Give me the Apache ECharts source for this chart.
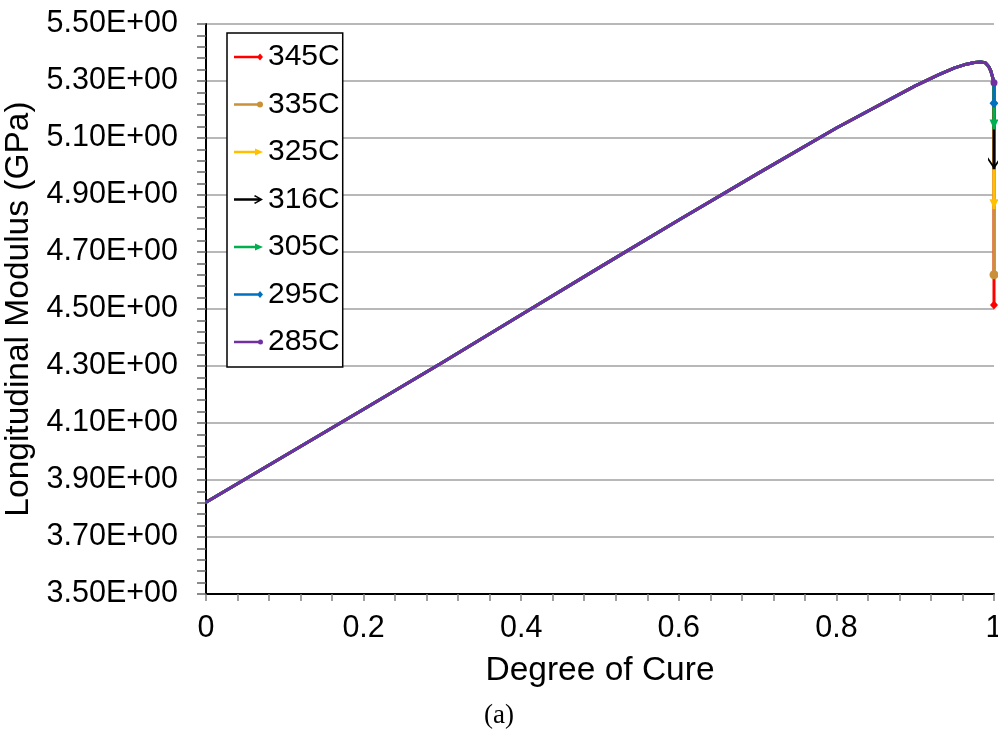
<!DOCTYPE html>
<html>
<head>
<meta charset="utf-8">
<script src="https://cdn.jsdelivr.net/npm/echarts@6/dist/echarts.min.js"></script>
<style>
html,body{margin:0;padding:0;background:#fff;}
#chart{width:998px;height:731px;}
</style>
</head>
<body>
<div id="chart"></div>
<script>
// ---- data ----
const temps = ['345C', '335C', '325C', '316C', '305C', '295C', '285C'];
const cure = [0, 0.1, 0.2, 0.3, 0.4, 0.5, 0.6, 0.7, 0.8, 0.9, 0.93, 0.95, 0.965, 0.975, 0.983, 0.989, 0.993, 0.996, 0.998, 1.0];
const modulus = [3.822, 3.985, 4.148, 4.312, 4.480, 4.647, 4.812, 4.975, 5.135, 5.283, 5.322, 5.346, 5.359, 5.365, 5.367, 5.364, 5.352, 5.335, 5.315, 5.294];
const finalModulus = [4.514, 4.620, 4.850, 4.990, 5.130, 5.222, 5.294];
const yTicks = [3.5, 3.7, 3.9, 4.1, 4.3, 4.5, 4.7, 4.9, 5.1, 5.3, 5.5];
const xTicks = [0, 0.2, 0.4, 0.6, 0.8, 1];

// ---- styles ----
const colors = ['#FF0000', '#C8913A', '#FFC000', '#000000', '#00B050', '#0070C0', '#7030A0'];
const chevronDown = 'path://M0,0L6,7.2L12,0L12,2.4L6,10L0,2.4Z';
const endSymbols = [
  {symbol: 'diamond', symbolSize: [8, 9]},
  {symbol: 'circle', symbolSize: 9},
  {symbol: 'triangle', symbolSize: [9, 10], symbolRotate: 180, symbolOffset: [0, -5]},
  {symbol: chevronDown, symbolSize: [12, 12], symbolOffset: [0, -6]},
  {symbol: 'triangle', symbolSize: [9, 10], symbolRotate: 180, symbolOffset: [0, -5]},
  {symbol: 'diamond', symbolSize: [9, 10]},
  {symbol: 'circle', symbolSize: 7}
];
const box = 'M0,0M29,12';
const lineTo = (e) => 'M0,4.7L' + e + ',4.7L' + e + ',7.3L0,7.3Z';
const legendIcons = [
  'path://' + box + lineTo(26) + 'M23,6L26,2.5L29,6L26,9.5Z',
  'path://' + box + lineTo(26) + 'M23,6A3,3 0 1,1 29,6A3,3 0 1,1 23,6Z',
  'path://' + box + lineTo(22) + 'M21,2.5L29,6L21,9.5Z',
  'path://' + box + lineTo(27) + 'M21,1.5L29,6L21,10.5L20,9.2L26.5,6L20,2.8Z',
  'path://' + box + lineTo(22) + 'M21,2.5L29,6L21,9.5Z',
  'path://' + box + lineTo(26) + 'M23,6L26,2.5L29,6L26,9.5Z',
  'path://' + box + lineTo(26) + 'M24,6A2.5,2.5 0 1,1 29,6A2.5,2.5 0 1,1 24,6Z'
];

const FONT = '"Liberation Sans", Arial, sans-serif';

const series = temps.map((t, i) => {
  const data = cure.map((x, j) => [x, modulus[j]]);
  data.push(Object.assign({value: [1, finalModulus[i]]}, endSymbols[i]));
  return {
    name: t,
    type: 'line',
    data: data,
    symbol: 'none',
    showSymbol: true,
    clip: false,
    lineStyle: {color: colors[i], width: 3},
    itemStyle: {color: colors[i]},
    emphasis: {disabled: true},
    animation: false
  };
});

const chart = echarts.init(document.getElementById('chart'), null, {renderer: 'canvas'});
chart.setOption({
  animation: false,
  backgroundColor: '#ffffff',
  textStyle: {fontFamily: FONT},
  grid: {left: 206, right: 4, top: 24, bottom: 137, containLabel: false, outerBoundsMode: 'none'},
  legend: {
    orient: 'vertical',
    left: 227, top: 33,
    padding: [9, 3, 10, 7],
    itemGap: 17.5,
    itemWidth: 29, itemHeight: 12,
    selectedMode: false,
    backgroundColor: '#ffffff',
    borderColor: '#000000', borderWidth: 1.5,
    textStyle: {fontSize: 30, color: '#000', fontFamily: FONT, lineHeight: 30},
    data: temps.map((t, i) => ({name: t, icon: legendIcons[i], itemStyle: {color: colors[i], borderWidth: 0}}))
  },
  xAxis: {
    type: 'value', min: xTicks[0], max: xTicks[xTicks.length - 1], interval: 0.2,
    name: 'Degree of Cure', nameLocation: 'middle', nameGap: 60,
    nameTextStyle: {fontSize: 33.5, color: '#000', fontFamily: FONT},
    axisLine: {show: true, lineStyle: {color: '#000', width: 2}},
    axisTick: {show: true, inside: false, length: 7, lineStyle: {color: '#808080', width: 1.5}},
    minorTick: {show: true, splitNumber: 5, length: 7, lineStyle: {color: '#808080', width: 1.5}},
    axisLabel: {fontSize: 30.5, color: '#000', margin: 19, fontFamily: FONT,
      formatter: (v) => String(Math.round(v * 10) / 10)},
    splitLine: {show: false}
  },
  yAxis: {
    type: 'value', min: yTicks[0], max: yTicks[yTicks.length - 1], interval: 0.2,
    name: 'Longitudinal Modulus (GPa)', nameLocation: 'middle', nameGap: 156,
    nameTextStyle: {fontSize: 33.5, color: '#000', fontFamily: FONT},
    axisLine: {show: true, lineStyle: {color: '#000', width: 2}},
    axisTick: {show: true, inside: false, length: 9, lineStyle: {color: '#666', width: 1.5}},
    minorTick: {show: true, splitNumber: 5, length: 9, lineStyle: {color: '#666', width: 1.5}},
    axisLabel: {fontSize: 30.5, color: '#000', margin: 28, fontFamily: FONT,
      formatter: (v) => v.toFixed(2) + 'E+00'},
    splitLine: {show: true, lineStyle: {color: '#a0a0a0', width: 1.5}}
  },
  graphic: [{
    type: 'text', left: 'center', top: 702,
    style: {text: '(a)', font: '27px "Liberation Serif", "Times New Roman", serif', fill: '#000'}
  }],
  series: series
});
</script>
</body>
</html>
